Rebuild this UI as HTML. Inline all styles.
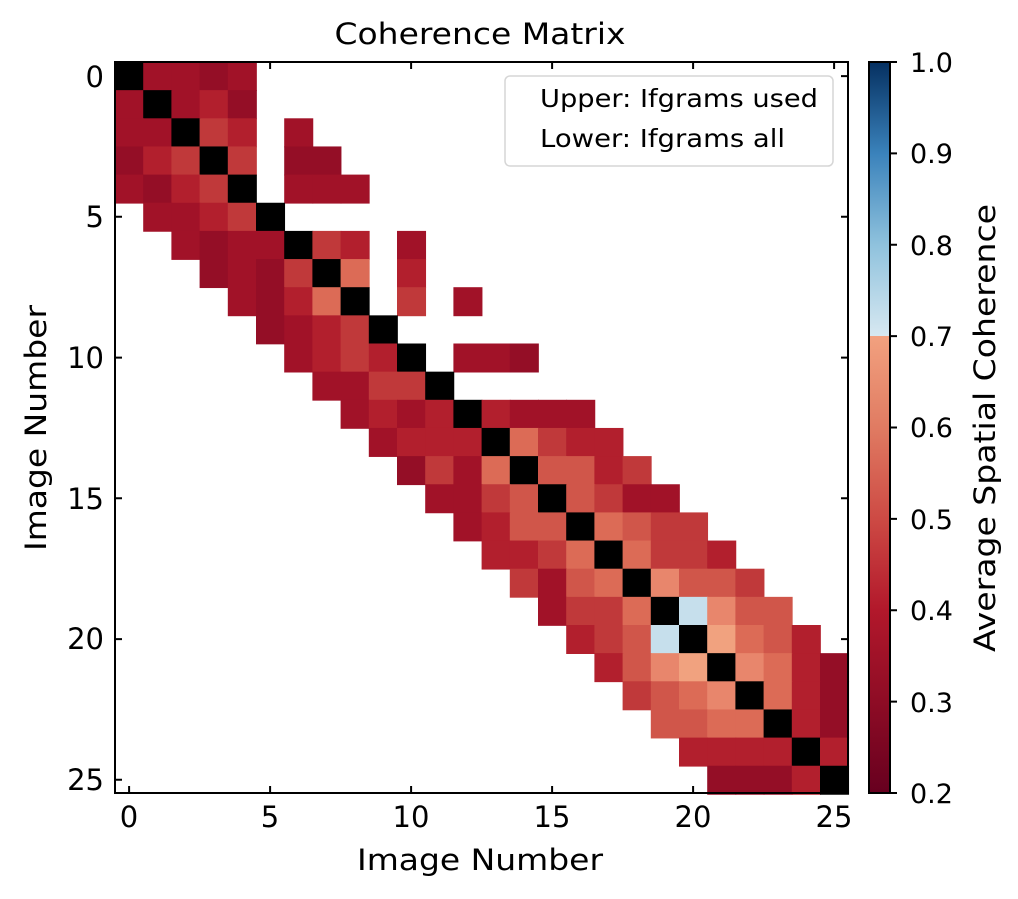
<!DOCTYPE html>
<html><head><meta charset="utf-8"><style>
html,body{margin:0;padding:0;background:#fff;}
svg{display:block;font-family:"DejaVu Sans","Liberation Sans",sans-serif;}
.cells rect{width:1.03px;height:1.03px;}
.a{fill:#a11228}.b{fill:#940e26}.c{fill:#b21f2d}.d{fill:#c0393a}.e{fill:#d0564a}.f{fill:#dc6b56}.g{fill:#e8866c}.h{fill:#f1a27f}.l{fill:#c6dfec}.k{fill:#000}
</style></head><body>
<svg width="1018" height="899" viewBox="0 0 1018 899" xmlns="http://www.w3.org/2000/svg">
<defs>
<linearGradient id="cb" x1="0" y1="1" x2="0" y2="0">
<stop offset="0" stop-color="#67001f"/>
<stop offset="0.125" stop-color="#8e0c25"/>
<stop offset="0.25" stop-color="#b2182b"/>
<stop offset="0.375" stop-color="#cd4a44"/>
<stop offset="0.5" stop-color="#e07b62"/>
<stop offset="0.625" stop-color="#f2a17f"/>
<stop offset="0.625" stop-color="#d7e8f1"/>
<stop offset="0.75" stop-color="#8fc2dd"/>
<stop offset="0.875" stop-color="#3a82bb"/>
<stop offset="1" stop-color="#053061"/>
</linearGradient>
</defs>
<text x="480" y="44" font-size="29" text-anchor="middle" textLength="291" lengthAdjust="spacingAndGlyphs">Coherence Matrix</text>
<g class="cells" transform="translate(115,62) scale(28.2,28.15)">
<rect x="0" y="0" class="k"/><rect x="1" y="0" class="a"/><rect x="2" y="0" class="a"/><rect x="3" y="0" class="b"/><rect x="4" y="0" class="a"/>
<rect x="0" y="1" class="a"/><rect x="1" y="1" class="k"/><rect x="2" y="1" class="a"/><rect x="3" y="1" class="c"/><rect x="4" y="1" class="b"/>
<rect x="0" y="2" class="a"/><rect x="1" y="2" class="a"/><rect x="2" y="2" class="k"/><rect x="3" y="2" class="d"/><rect x="4" y="2" class="c"/><rect x="6" y="2" class="a"/>
<rect x="0" y="3" class="b"/><rect x="1" y="3" class="c"/><rect x="2" y="3" class="d"/><rect x="3" y="3" class="k"/><rect x="4" y="3" class="d"/><rect x="6" y="3" class="b"/><rect x="7" y="3" class="b"/>
<rect x="0" y="4" class="a"/><rect x="1" y="4" class="b"/><rect x="2" y="4" class="c"/><rect x="3" y="4" class="d"/><rect x="4" y="4" class="k"/><rect x="6" y="4" class="a"/><rect x="7" y="4" class="a"/><rect x="8" y="4" class="a"/>
<rect x="1" y="5" class="a"/><rect x="2" y="5" class="a"/><rect x="3" y="5" class="c"/><rect x="4" y="5" class="d"/><rect x="5" y="5" class="k"/>
<rect x="2" y="6" class="a"/><rect x="3" y="6" class="b"/><rect x="4" y="6" class="a"/><rect x="5" y="6" class="a"/><rect x="6" y="6" class="k"/><rect x="7" y="6" class="d"/><rect x="8" y="6" class="c"/><rect x="10" y="6" class="a"/>
<rect x="3" y="7" class="b"/><rect x="4" y="7" class="a"/><rect x="5" y="7" class="b"/><rect x="6" y="7" class="d"/><rect x="7" y="7" class="k"/><rect x="8" y="7" class="f"/><rect x="10" y="7" class="c"/>
<rect x="4" y="8" class="a"/><rect x="5" y="8" class="b"/><rect x="6" y="8" class="c"/><rect x="7" y="8" class="f"/><rect x="8" y="8" class="k"/><rect x="10" y="8" class="d"/><rect x="12" y="8" class="a"/>
<rect x="5" y="9" class="b"/><rect x="6" y="9" class="a"/><rect x="7" y="9" class="c"/><rect x="8" y="9" class="d"/><rect x="9" y="9" class="k"/>
<rect x="6" y="10" class="a"/><rect x="7" y="10" class="c"/><rect x="8" y="10" class="d"/><rect x="9" y="10" class="c"/><rect x="10" y="10" class="k"/><rect x="12" y="10" class="a"/><rect x="13" y="10" class="a"/><rect x="14" y="10" class="b"/>
<rect x="7" y="11" class="a"/><rect x="8" y="11" class="a"/><rect x="9" y="11" class="d"/><rect x="10" y="11" class="d"/><rect x="11" y="11" class="k"/>
<rect x="8" y="12" class="a"/><rect x="9" y="12" class="c"/><rect x="10" y="12" class="a"/><rect x="11" y="12" class="c"/><rect x="12" y="12" class="k"/><rect x="13" y="12" class="c"/><rect x="14" y="12" class="a"/><rect x="15" y="12" class="a"/><rect x="16" y="12" class="a"/>
<rect x="9" y="13" class="a"/><rect x="10" y="13" class="c"/><rect x="11" y="13" class="c"/><rect x="12" y="13" class="c"/><rect x="13" y="13" class="k"/><rect x="14" y="13" class="f"/><rect x="15" y="13" class="d"/><rect x="16" y="13" class="c"/><rect x="17" y="13" class="c"/>
<rect x="10" y="14" class="b"/><rect x="11" y="14" class="d"/><rect x="12" y="14" class="a"/><rect x="13" y="14" class="f"/><rect x="14" y="14" class="k"/><rect x="15" y="14" class="e"/><rect x="16" y="14" class="e"/><rect x="17" y="14" class="c"/><rect x="18" y="14" class="d"/>
<rect x="11" y="15" class="a"/><rect x="12" y="15" class="a"/><rect x="13" y="15" class="d"/><rect x="14" y="15" class="e"/><rect x="15" y="15" class="k"/><rect x="16" y="15" class="e"/><rect x="17" y="15" class="d"/><rect x="18" y="15" class="a"/><rect x="19" y="15" class="a"/>
<rect x="12" y="16" class="a"/><rect x="13" y="16" class="c"/><rect x="14" y="16" class="e"/><rect x="15" y="16" class="e"/><rect x="16" y="16" class="k"/><rect x="17" y="16" class="f"/><rect x="18" y="16" class="e"/><rect x="19" y="16" class="d"/><rect x="20" y="16" class="d"/>
<rect x="13" y="17" class="c"/><rect x="14" y="17" class="c"/><rect x="15" y="17" class="d"/><rect x="16" y="17" class="f"/><rect x="17" y="17" class="k"/><rect x="18" y="17" class="f"/><rect x="19" y="17" class="d"/><rect x="20" y="17" class="d"/><rect x="21" y="17" class="c"/>
<rect x="14" y="18" class="d"/><rect x="15" y="18" class="a"/><rect x="16" y="18" class="e"/><rect x="17" y="18" class="f"/><rect x="18" y="18" class="k"/><rect x="19" y="18" class="g"/><rect x="20" y="18" class="e"/><rect x="21" y="18" class="e"/><rect x="22" y="18" class="d"/>
<rect x="15" y="19" class="a"/><rect x="16" y="19" class="d"/><rect x="17" y="19" class="d"/><rect x="18" y="19" class="f"/><rect x="19" y="19" class="k"/><rect x="20" y="19" class="l"/><rect x="21" y="19" class="g"/><rect x="22" y="19" class="e"/><rect x="23" y="19" class="e"/>
<rect x="16" y="20" class="c"/><rect x="17" y="20" class="d"/><rect x="18" y="20" class="e"/><rect x="19" y="20" class="l"/><rect x="20" y="20" class="k"/><rect x="21" y="20" class="h"/><rect x="22" y="20" class="f"/><rect x="23" y="20" class="e"/><rect x="24" y="20" class="c"/>
<rect x="17" y="21" class="c"/><rect x="18" y="21" class="e"/><rect x="19" y="21" class="g"/><rect x="20" y="21" class="h"/><rect x="21" y="21" class="k"/><rect x="22" y="21" class="g"/><rect x="23" y="21" class="f"/><rect x="24" y="21" class="c"/><rect x="25" y="21" class="b"/>
<rect x="18" y="22" class="d"/><rect x="19" y="22" class="e"/><rect x="20" y="22" class="f"/><rect x="21" y="22" class="g"/><rect x="22" y="22" class="k"/><rect x="23" y="22" class="f"/><rect x="24" y="22" class="c"/><rect x="25" y="22" class="b"/>
<rect x="19" y="23" class="e"/><rect x="20" y="23" class="e"/><rect x="21" y="23" class="f"/><rect x="22" y="23" class="f"/><rect x="23" y="23" class="k"/><rect x="24" y="23" class="c"/><rect x="25" y="23" class="b"/>
<rect x="20" y="24" class="c"/><rect x="21" y="24" class="c"/><rect x="22" y="24" class="c"/><rect x="23" y="24" class="c"/><rect x="24" y="24" class="k"/><rect x="25" y="24" class="c"/>
<rect x="21" y="25" class="b"/><rect x="22" y="25" class="b"/><rect x="23" y="25" class="b"/><rect x="24" y="25" class="c"/><rect x="25" y="25" class="k"/>
</g>
<!-- legend -->
<rect x="505" y="76" width="328" height="90" rx="5" fill="#fff" fill-opacity="0.8" stroke="#d6d6d6" stroke-width="1.5"/>
<text x="540" y="107" font-size="25" textLength="278" lengthAdjust="spacingAndGlyphs">Upper: Ifgrams used</text>
<text x="540" y="147" font-size="25" textLength="245" lengthAdjust="spacingAndGlyphs">Lower: Ifgrams all</text>
<!-- axes frame -->
<rect x="115" y="62" width="733" height="731" fill="none" stroke="#000" stroke-width="2"/>
<g stroke="#000" stroke-width="2">
<path d="M129.1 793v-7M270.1 793v-7M411.1 793v-7M552.1 793v-7M693.1 793v-7M834.1 793v-7"/>
<path d="M129.1 62v7M270.1 62v7M411.1 62v7M552.1 62v7M693.1 62v7M834.1 62v7"/>
<path d="M115 76.1h7M115 216.8h7M115 357.6h7M115 498.3h7M115 639.1h7M115 779.8h7"/>
<path d="M848 76.1h-7M848 216.8h-7M848 357.6h-7M848 498.3h-7M848 639.1h-7M848 779.8h-7"/>
</g>
<g font-size="29" text-anchor="end">
<text x="104" y="87">0</text><text x="104" y="227">5</text><text x="104" y="368">10</text><text x="104" y="509">15</text><text x="104" y="649">20</text><text x="104" y="790">25</text>
</g>
<g font-size="29" text-anchor="middle">
<text x="129" y="827">0</text><text x="270" y="827">5</text><text x="411" y="827">10</text><text x="552" y="827">15</text><text x="693" y="827">20</text><text x="834" y="827">25</text>
</g>
<text x="480" y="870" font-size="29" text-anchor="middle" textLength="246" lengthAdjust="spacingAndGlyphs">Image Number</text>
<text transform="translate(46,428) rotate(-90)" font-size="29" text-anchor="middle" textLength="246" lengthAdjust="spacingAndGlyphs">Image Number</text>
<!-- colorbar -->
<rect x="869" y="62" width="21" height="731" fill="url(#cb)" stroke="#000" stroke-width="2"/>
<g stroke="#000" stroke-width="2">
<path d="M890 62h7M890 153.4h7M890 244.8h7M890 336.1h7M890 427.5h7M890 518.9h7M890 610.3h7M890 701.6h7M890 793h7"/>
</g>
<g font-size="27">
<text x="910" y="72">1.0</text><text x="910" y="163">0.9</text><text x="910" y="255">0.8</text><text x="910" y="346">0.7</text><text x="910" y="437">0.6</text><text x="910" y="529">0.5</text><text x="910" y="620">0.4</text><text x="910" y="712">0.3</text><text x="910" y="803">0.2</text>
</g>
<text transform="translate(995,428) rotate(-90)" font-size="29" text-anchor="middle" textLength="448" lengthAdjust="spacingAndGlyphs">Average Spatial Coherence</text>
</svg>
</body></html>
